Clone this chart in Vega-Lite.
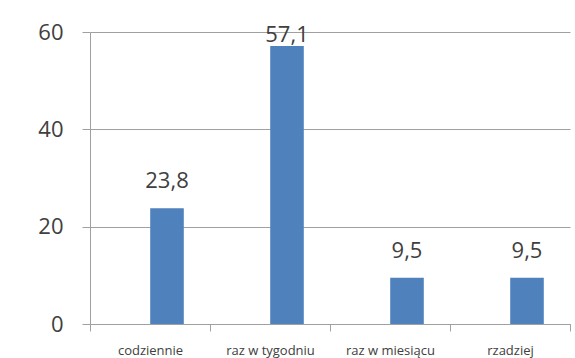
{
  "$schema": "https://vega.github.io/schema/vega-lite/v6.json",
  "autosize": "none",
  "width": 480,
  "height": 292,
  "padding": {"left": 90, "top": 32, "right": 5, "bottom": 34},
  "background": "white",
  "config": {
    "view": {"stroke": null},
    "locale": {"number": {"decimal": ",", "thousands": " ", "grouping": [3], "currency": ["", " zł"]}},
    "font": "Open Sans"
  },
  "data": {
    "values": [
      {"kategoria": "codziennie", "wartosc": 23.8},
      {"kategoria": "raz w tygodniu", "wartosc": 57.1},
      {"kategoria": "raz w miesiącu", "wartosc": 9.5},
      {"kategoria": "rzadziej", "wartosc": 9.5}
    ]
  },
  "encoding": {
    "x": {
      "field": "kategoria",
      "type": "nominal",
      "sort": null,
      "scale": {"paddingInner": 0, "paddingOuter": 0},
      "axis": {
        "title": null,
        "labelAngle": 0,
        "labelFont": "Open Sans",
        "labelFontSize": 13,
        "labelColor": "#404040",
        "labelPadding": 13,
        "labelBaseline": "top",
        "tickBand": "extent",
        "tickSize": 7,
        "tickColor": "#a0a0a0",
        "domainColor": "#a0a0a0",
        "grid": false
      }
    },
    "y": {
      "field": "wartosc",
      "type": "quantitative",
      "scale": {"domain": [0, 60], "nice": false},
      "axis": {
        "title": null,
        "values": [0, 20, 40, 60],
        "labelFont": "Open Sans",
        "labelFontSize": 22,
        "labelColor": "#404040",
        "labelPadding": 19,
        "tickSize": 8,
        "tickColor": "#a0a0a0",
        "domainColor": "#a0a0a0",
        "grid": true,
        "gridColor": "#a0a0a0",
        "gridOpacity": 1
      }
    }
  },
  "layer": [
    {
      "mark": {"type": "bar", "color": "#4f81bd", "width": {"band": 0.28}, "xOffset": 17}
    },
    {
      "mark": {
        "type": "text",
        "font": "Open Sans",
        "fontSize": 22,
        "color": "#404040",
        "baseline": "alphabetic",
        "dx": 17,
        "dy": {"expr": "datum.wartosc > 55 ? -4 : -20"}
      },
      "encoding": {
        "text": {"field": "wartosc", "type": "quantitative", "format": ".1f"}
      }
    }
  ]
}
